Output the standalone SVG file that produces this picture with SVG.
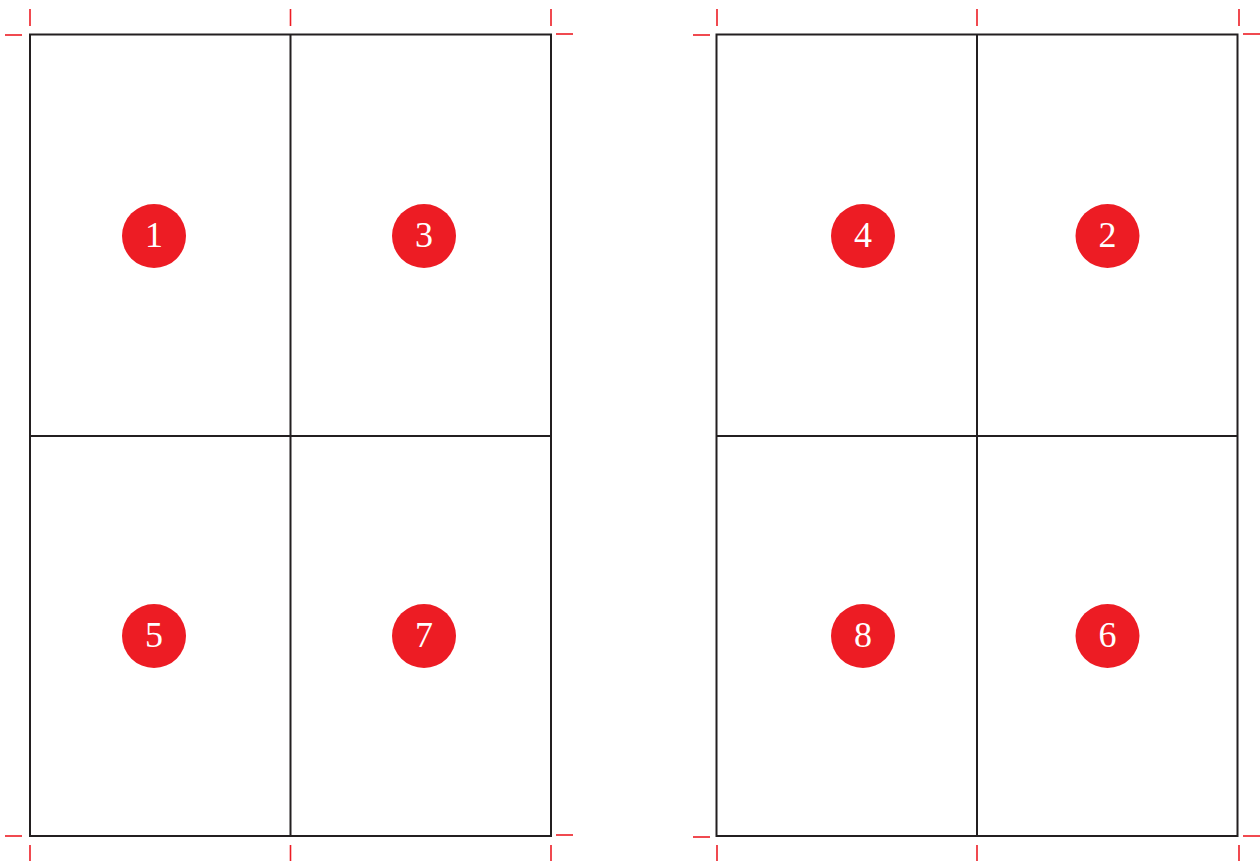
<svg xmlns="http://www.w3.org/2000/svg" width="1260" height="861" viewBox="0 0 1260 861">
<style>
.frame{fill:none;stroke:#231F20;stroke-width:2}
.div{stroke:#231F20;stroke-width:2}
.tick{stroke:#ED1C24;stroke-width:1.6}
.badge{fill:#ED1C24}
.num{fill:#FFFFFF;font-family:"Liberation Serif","Times New Roman",serif;font-size:36px;text-anchor:middle}
</style>
<rect width="1260" height="861" fill="#FFFFFF"/>
<g id="crop-marks">
<line class="tick" x1="30" y1="9" x2="30" y2="26"/>
<line class="tick" x1="290.5" y1="9" x2="290.5" y2="26"/>
<line class="tick" x1="551" y1="9" x2="551" y2="26"/>
<line class="tick" x1="717" y1="9" x2="717" y2="26"/>
<line class="tick" x1="977" y1="9" x2="977" y2="26"/>
<line class="tick" x1="1239" y1="9" x2="1239" y2="26"/>
<line class="tick" x1="30" y1="845" x2="30" y2="861"/>
<line class="tick" x1="290.5" y1="845" x2="290.5" y2="861"/>
<line class="tick" x1="551" y1="845" x2="551" y2="861"/>
<line class="tick" x1="717" y1="845" x2="717" y2="861"/>
<line class="tick" x1="977" y1="845" x2="977" y2="861"/>
<line class="tick" x1="1239" y1="845" x2="1239" y2="861"/>
<line class="tick" x1="5" y1="35" x2="22" y2="35"/>
<line class="tick" x1="556" y1="34" x2="573" y2="34"/>
<line class="tick" x1="693" y1="35" x2="710" y2="35"/>
<line class="tick" x1="1243" y1="34" x2="1260" y2="34"/>
<line class="tick" x1="5" y1="836" x2="22" y2="836"/>
<line class="tick" x1="556" y1="835" x2="573" y2="835"/>
<line class="tick" x1="693" y1="837" x2="710" y2="837"/>
<line class="tick" x1="1243" y1="836" x2="1260" y2="836"/>
</g>
<g id="sheet-left">
<rect class="frame" x="30" y="34.5" width="521" height="801.5"/>
<line class="div" x1="290.5" y1="34.5" x2="290.5" y2="836"/>
<line class="div" x1="30" y1="436" x2="551" y2="436"/>
</g>
<g id="sheet-right">
<rect class="frame" x="716.5" y="34.5" width="521" height="801.5"/>
<line class="div" x1="977" y1="34.5" x2="977" y2="836"/>
<line class="div" x1="716.5" y1="436" x2="1237.5" y2="436"/>
</g>
<g id="page-1"><circle class="badge" cx="154" cy="236" r="32"/><text class="num" x="154" y="247">1</text></g>
<g id="page-3"><circle class="badge" cx="424" cy="236" r="32"/><text class="num" x="424" y="247">3</text></g>
<g id="page-5"><circle class="badge" cx="154" cy="636" r="32"/><text class="num" x="154" y="647">5</text></g>
<g id="page-7"><circle class="badge" cx="424" cy="636" r="32"/><text class="num" x="424" y="647">7</text></g>
<g id="page-4"><circle class="badge" cx="863" cy="236" r="32"/><text class="num" x="863" y="247">4</text></g>
<g id="page-2"><circle class="badge" cx="1107.5" cy="236" r="32"/><text class="num" x="1107.5" y="247">2</text></g>
<g id="page-8"><circle class="badge" cx="863" cy="636" r="32"/><text class="num" x="863" y="647">8</text></g>
<g id="page-6"><circle class="badge" cx="1107.5" cy="636" r="32"/><text class="num" x="1107.5" y="647">6</text></g>
</svg>
